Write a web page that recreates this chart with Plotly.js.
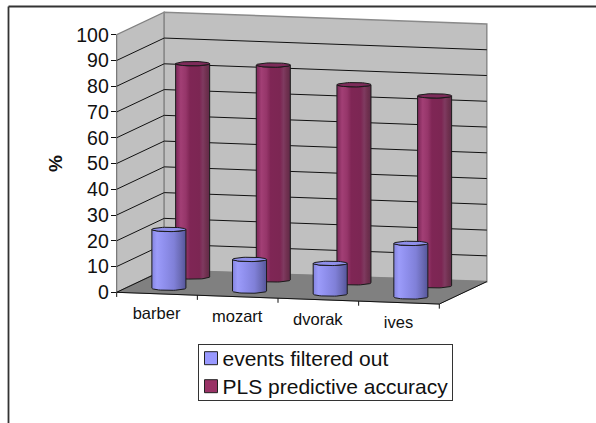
<!DOCTYPE html>
<html>
<head>
<meta charset="utf-8">
<script src="https://cdn.plot.ly/plotly-3.0.1.min.js"></script>
<style>html,body{margin:0;padding:0;background:#fff}#chart{width:596px;height:423px}</style>
</head>
<body>
<div id="chart"></div>
<script>
// ---- data ----
const categories = ['barber', 'mozart', 'dvorak', 'ives'];
const eventsFilteredOut = [22.8, 12.3, 11.9, 20.8];
const plsAccuracy = [82.8, 83.4, 76.9, 73.7];
const yTicks = [0, 10, 20, 30, 40, 50, 60, 70, 80, 90, 100];

// ---- oblique projection of the 3-D box onto the 2-D axes ----
// (category position, depth 0..1, value) -> (x axis, y axis)
const DEPTH_X = 0.589, DEPTH_Y = 8.70, FLOOR_SLOPE = 1.137;
const RX = 0.211, RY = 0.854;
const px = (c, d) => c + d * DEPTH_X;
const py = (c, d, v) => v - c * FLOOR_SLOPE + d * DEPTH_Y;
const FONT = 'Liberation Sans, Arial, sans-serif';
const AX = {xaxis: 'x2', yaxis: 'y2'};

function poly(pts, extra) {
  return Object.assign({
    x: pts.map(p => px(p[0], p[1])),
    y: pts.map(p => py(p[0], p[1], p[2])),
    type: 'scatter', mode: 'lines', showlegend: false, hoverinfo: 'skip',
    line: {color: '#000', width: 1}
  }, AX, extra);
}
const wall = (pts, fill, lineColor, w) => poly(pts, {fill: 'toself', fillcolor: fill, line: {color: lineColor, width: w}});

const traces = [];
const nC = categories.length;
// legend entries (also carry the visible y axis)
traces.push({x: [null], y: [null], type: 'scatter', mode: 'markers', name: 'events filtered out',
  marker: {symbol: 'square', size: 13, color: '#9999ff', line: {color: '#222', width: 1}}});
traces.push({x: [null], y: [null], type: 'scatter', mode: 'markers', name: 'PLS predictive accuracy',
  marker: {symbol: 'square', size: 13, color: '#993366', line: {color: '#222', width: 1}}});
// side wall, back wall, floor
traces.push(wall([[0,0,0],[0,1,0],[0,1,100],[0,0,100],[0,0,0]], '#c0c0c0', '#808080', 1.2));
traces.push(wall([[0,1,0],[nC,1,0],[nC,1,100],[0,1,100],[0,1,0]], '#c0c0c0', '#8a8a8a', 1.5));
// gridlines
yTicks.filter(v => v > 0 && v < 100).forEach(v => {
  traces.push(poly([[0,0,v],[0,1,v],[nC,1,v]], {line: {color: '#111', width: 1}}));
});
traces.push(wall([[0,0,0],[nC,0,0],[nC,1,0],[0,1,0],[0,0,0]], '#808080', '#808080', 1));
// floor edges
traces.push(poly([[0,1,0],[0,0,0],[nC,0,0],[nC,1,0]], {line: {color: '#111', width: 1}}));
// category ticks
categories.concat(['']).forEach((_, i) => {
  traces.push(poly([[i,0,0],[i,0,-1.8]], {line: {color: '#111', width: 1}}));
});

function cylinder(c, d, v, name, scale, topColor) {
  const cx = c + 0.5, N = 24, body = [], rim = [];
  const X = t => px(cx, d) + RX * Math.cos(t);
  const base = py(cx, d, 0), top = py(cx, d, v);
  for (let i = 0; i <= N; i++) {               // bottom front half, left to right
    const t = Math.PI - Math.PI * i / N;
    body.push([X(t), base - RY * Math.sin(t)]);
  }
  for (let i = 0; i <= N; i++) {               // top front half, right to left
    const t = Math.PI * i / N;
    body.push([X(t), top - RY * Math.sin(t)]);
  }
  body.push(body[0]);
  for (let i = 0; i <= 2 * N; i++) {
    const t = Math.PI * i / N;
    rim.push([X(t), top + RY * Math.sin(t)]);
  }
  const common = Object.assign({type: 'scatter', mode: 'lines', showlegend: false,
                  line: {color: '#1a1a1a', width: 1}, name: name, hoverinfo: 'skip'}, AX);
  traces.push(Object.assign({}, common, {
    x: body.map(p => p[0]), y: body.map(p => p[1]), fill: 'toself',
    fillgradient: {type: 'horizontal', colorscale: scale}
  }));
  traces.push(Object.assign({}, common, {
    x: rim.map(p => p[0]), y: rim.map(p => p[1]), fill: 'toself', fillcolor: topColor
  }));
}
const backScale = [[0,'#7a2a5a'],[0.06,'#8a2f62'],[0.15,'#a23f75'],[0.3,'#96366a'],[0.42,'#7f2655'],[0.7,'#7c2653'],[0.8,'#7f3a60'],[0.9,'#70304f'],[1,'#5f2a48']];
const frontScale = [[0,'#8585e0'],[0.15,'#9c9cfa'],[0.35,'#9090ee'],[0.65,'#8080d8'],[0.85,'#6a6ab4'],[1,'#55559a']];
plsAccuracy.forEach((v, i) => cylinder(i, 0.75, v, 'PLS predictive accuracy', backScale, '#7d2b5a'));
eventsFilteredOut.forEach((v, i) => cylinder(i, 0.25, v, 'events filtered out', frontScale, '#8f8fea'));

// category labels
traces.push(Object.assign({
  x: categories.map((_, i) => px(i + 0.5, 0) - 0.006),
  y: categories.map((_, i) => py(i + 0.5, 0, -8.3)),
  text: categories, type: 'scatter', mode: 'text', textposition: 'middle center',
  textfont: {family: FONT, size: 16.5, color: '#111'},
  showlegend: false, hoverinfo: 'skip'
}, AX));

const W = 596, H = 423;
const X0 = 116.7, X4 = 439.3, Y0 = 292.3, Y100 = 34.7;
const pxPerCat = (X4 - X0) / nC, pxPerVal = (Y0 - Y100) / 100;
const layout = {
  width: W, height: H,
  margin: {l: 0, r: 0, t: 0, b: 0},
  paper_bgcolor: '#fff', plot_bgcolor: 'rgba(0,0,0,0)',
  font: {family: FONT, color: '#111'},
  showlegend: true,
  // visible value axis, spanning exactly 0..100
  xaxis: {domain: [X0 / W, X4 / W], range: [0, nC], visible: false, fixedrange: true},
  yaxis: {
    domain: [1 - Y0 / H, 1 - Y100 / H], range: [0, 100], tickmode: 'array', tickvals: yTicks,
    ticks: 'outside', ticklen: 5, tickwidth: 1, tickcolor: '#111', ticklabelstandoff: -2,
    showline: true, linecolor: '#111', linewidth: 1, showgrid: false, zeroline: false,
    tickfont: {family: FONT, size: 19.5, color: '#111'},
    title: {text: '<b>%</b>', font: {family: FONT, size: 19, color: '#111'}, standoff: 8},
    fixedrange: true
  },
  // same scale, whole page: carries the projected box
  xaxis2: {domain: [0, 1], range: [-X0 / pxPerCat, (W - X0) / pxPerCat], visible: false, fixedrange: true, anchor: 'y2'},
  yaxis2: {domain: [0, 1], range: [(Y0 - H) / pxPerVal, Y0 / pxPerVal], visible: false, fixedrange: true, anchor: 'x2'},
  legend: {
    x: 198 / W, y: 1 - 343.7 / H, xanchor: 'left', yanchor: 'top',
    bgcolor: '#fff', bordercolor: '#333', borderwidth: 1,
    font: {family: FONT, size: 21, color: '#111'},
    entrywidth: 212, entrywidthmode: 'pixels', tracegroupgap: 0
  },
  shapes: [
    {type: 'line', xref: 'paper', yref: 'paper', x0: 8.5 / W, x1: 8.5 / W, y0: 0, y1: 1 - 6.5 / H, line: {color: '#333', width: 1.8}},
    {type: 'line', xref: 'paper', yref: 'paper', x0: 8.5 / W, x1: 1, y0: 1 - 6.5 / H, y1: 1 - 6.5 / H, line: {color: '#333', width: 1.8}}
  ]
};
Plotly.newPlot('chart', traces, layout, {displayModeBar: false, staticPlot: true}).then(() => {
  // tighten the legend to the reference's compact box
  const rows = document.querySelectorAll('.legend .traces');
  const ROW = 28, FIRST = 14.5;
  rows.forEach((r, i) => r.setAttribute('transform', 'translate(1,' + (FIRST + i * ROW) + ')'));
  document.querySelectorAll('.legend .legendtext').forEach(t => t.setAttribute('x', +t.getAttribute('x') - 16.5));
  document.querySelectorAll('.legend .legendsymbols').forEach(s => s.setAttribute('transform', 'translate(-8,0)'));
  const bg = document.querySelector('.legend rect.bg');
  if (bg) { bg.setAttribute('height', 56.6); bg.setAttribute('width', 253.7); }
});
</script>
</body>
</html>
